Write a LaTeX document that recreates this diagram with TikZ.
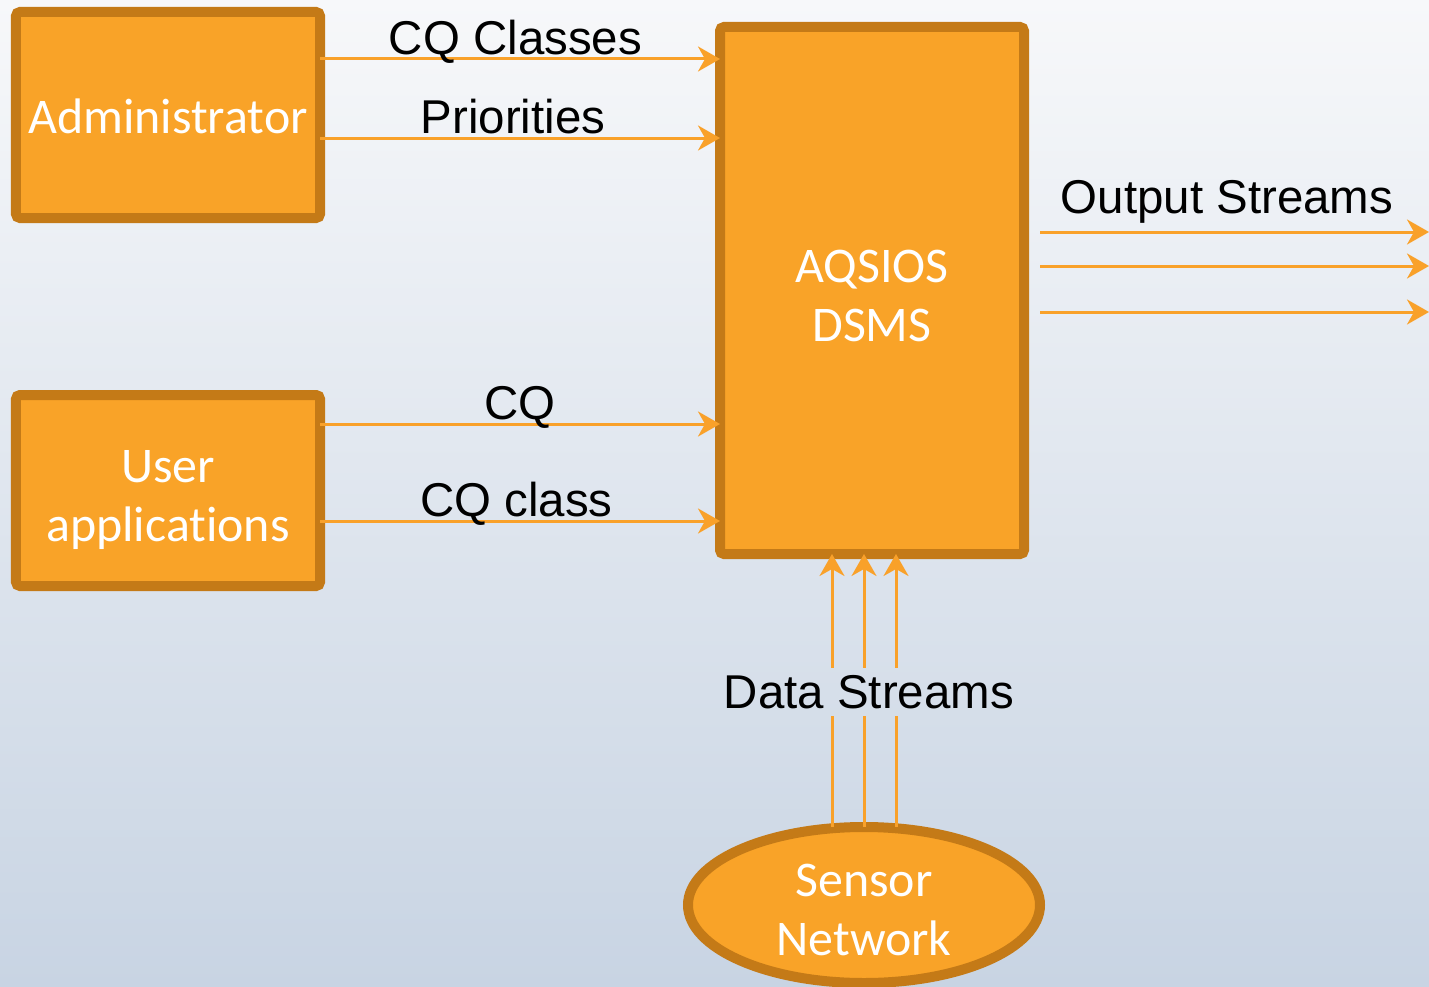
\documentclass[tikz,border=0pt]{standalone}
\usepackage{fontspec}
\setmainfont{Liberation Sans}
\newfontfamily\boxfont[Ligatures=NoCommon]{Carlito}
\usetikzlibrary{arrows.meta,positioning,shapes.geometric,calc}
\definecolor{boxfill}{HTML}{F9A328}
\definecolor{boxline}{HTML}{C47A17}
\definecolor{flowcol}{HTML}{F9A12A}
\definecolor{bgtop}{HTML}{F7F8FA}
\definecolor{bgbot}{HTML}{C8D4E3}
\tikzset{
  block/.style={draw=boxline, fill=boxfill, line width=2mm, rounded corners=0.8mm,
    outer sep=0pt, inner sep=0pt, text=white, align=center,
    font=\boxfont\fontsize{28.4}{33.6}\selectfont, minimum width=60.8mm,
    text height=21pt, text depth=0pt},
  twoline/.style={text height=57.6pt, text depth=0pt},
  flow/.style={draw=flowcol, line width=0.6mm, -{Stealth[length=4.4mm,width=5mm,inset=1.4mm]}},
  lbl/.style={font=\fontsize{27}{32}\selectfont, anchor=base, inner sep=0pt}
}

\begin{document}
\begin{tikzpicture}[x=0.2mm,y=-0.2mm]
  % background
  \shade[top color=bgtop, bottom color=bgbot] (0,0) rectangle (1429,987);
  \useasboundingbox (0,0) rectangle (1429,987);
  \clip (0,0) rectangle (1429,987);

  % the blocks
  \node[block, minimum height=41.2mm] (admin) at (168,115) {Administrator};
  \node[block, twoline, minimum height=38.2mm] (user) at (168,490.5) {User\\applications};
  \node[block, twoline, minimum height=105.4mm] (dsms) at (872,290.5) {AQSIOS\\DSMS};
  \node[block, twoline, ellipse, rounded corners=0pt, minimum width=70.4mm, minimum height=31.2mm] (sensor) at (864,905) {Sensor\\Network};

  % inputs from the administrator and the users
  \draw[flow] ([yshift=11.2mm]admin.east) -- ([yshift=11.2mm]admin.east -| dsms.west)
    node[lbl, midway, xshift=-0.9mm, yshift=0.9mm] {CQ Classes};
  \draw[flow] ([yshift=-4.6mm]admin.east) -- ([yshift=-4.6mm]admin.east -| dsms.west)
    node[lbl, midway, xshift=-1.4mm, yshift=1mm] {Priorities};
  \draw[flow] ([yshift=13.3mm]user.east) -- ([yshift=13.3mm]user.east -| dsms.west)
    node[lbl, midway, yshift=1mm] {CQ};
  \draw[flow] ([yshift=-6.1mm]user.east) -- ([yshift=-6.1mm]user.east -| dsms.west)
    node[lbl, midway, xshift=-0.7mm, yshift=1mm] {CQ class};

  % output streams
  \coordinate (rim) at (1429,0);
  \node[lbl] (outlbl) at ([xshift=40.6mm,yshift=15.5mm]dsms.east) {Output Streams};
  \foreach \dy in {11.7,4.9,-4.3}
    \draw[flow] ([xshift=3.2mm,yshift=\dy mm]dsms.east) -- ([yshift=\dy mm]dsms.east -| rim);

  % data streams from the sensor network
  \node[lbl, anchor=center, minimum height=9.6mm] (ds) at (869,692) {Data Streams};
  \foreach \dx in {-6.4,0,6.4} {
    \draw[flowcol, line width=0.6mm] ([xshift=\dx mm]sensor.north) -- ([xshift=\dx mm]sensor.north |- ds.south);
    \draw[flow] ([xshift=\dx mm]sensor.north |- ds.north) -- ([xshift=\dx mm]sensor.north |- dsms.south);
  }
\end{tikzpicture}
\end{document}
